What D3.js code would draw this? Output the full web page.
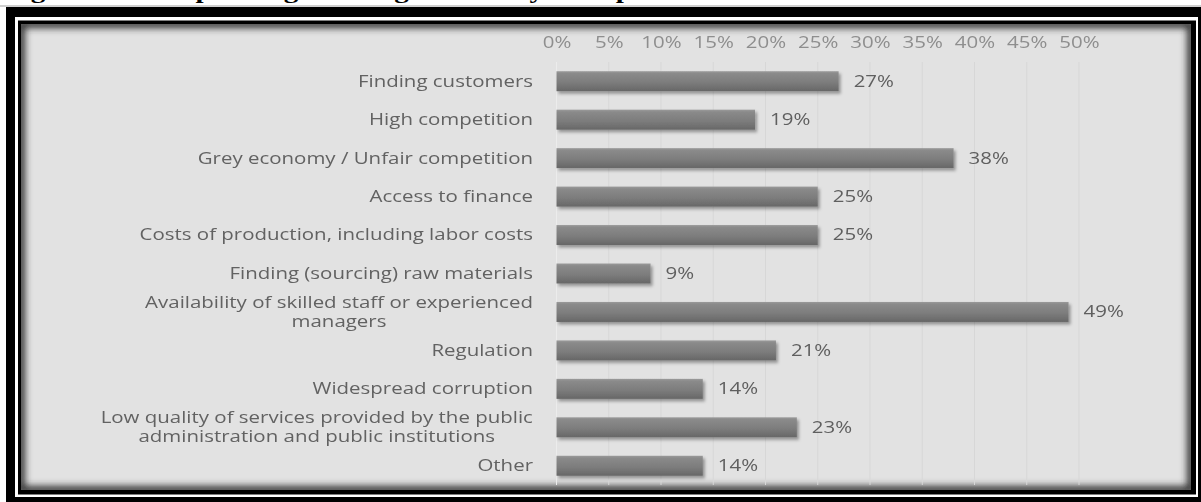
<!DOCTYPE html>
<html>
<head>
<meta charset="utf-8">
<script src="https://cdn.jsdelivr.net/npm/d3@7"></script>
<style>
  html, body { margin: 0; padding: 0; background: #ffffff; }
  svg { display: block; }
  text { font-family: "Open Sans", "Noto Sans", sans-serif; }
</style>
</head>
<body>
<div id="chart"></div>
<script>
// ---- data ----
const categories = [
  "Finding customers",
  "High competition",
  "Grey economy / Unfair competition",
  "Access to finance",
  "Costs of production, including labor costs",
  "Finding (sourcing) raw materials",
  "Availability of skilled staff or experienced managers",
  "Regulation",
  "Widespread corruption",
  "Low quality of services provided by the public administration and public institutions",
  "Other"
];
const values = [27, 19, 38, 25, 25, 9, 49, 21, 14, 23, 14];
const tickValues = [0, 5, 10, 15, 20, 25, 30, 35, 40, 45, 50];
const titleText = "Figure 4: Most pressing challenges faced by enterprises";

// ---- layout ----
const W = 1201, H = 502;
const fontSize = 15.5;
const stretch = 1.32;          // horizontal stretch of all text on the page
const labelRight = 533;        // right edge of category labels
const wrapWidth = 470;

const svg = d3.select("#chart").append("svg")
  .attr("width", W).attr("height", H);

const defs = svg.append("defs");

const barGrad = defs.append("linearGradient")
  .attr("id", "barGrad").attr("x1", 0).attr("y1", 0).attr("x2", 0).attr("y2", 1);
[["0%", "#9a9a9a"], ["12%", "#8a8a8a"], ["55%", "#7d7d7d"], ["100%", "#676767"]]
  .forEach(([o, c]) => barGrad.append("stop").attr("offset", o).attr("stop-color", c));

const shadow = defs.append("filter").attr("id", "barShadow")
  .attr("x", "-5%").attr("y", "-40%").attr("width", "115%").attr("height", "200%");
shadow.append("feDropShadow").attr("dx", 2).attr("dy", 2.5)
  .attr("stdDeviation", 1.6).attr("flood-color", "#000").attr("flood-opacity", 0.35);

const innerBlur = defs.append("filter").attr("id", "innerBlur")
  .attr("x", "-5%").attr("y", "-5%").attr("width", "110%").attr("height", "110%");
innerBlur.append("feGaussianBlur").attr("stdDeviation", 3.5);

const soft = defs.append("filter").attr("id", "soft");
soft.append("feGaussianBlur").attr("stdDeviation", 0.35);

// ---- page frame ----
const frame = { x0: 21, y0: 24, x1: 1191, y1: 490 };

// caption above the framed chart (only its descenders fall inside the page)
svg.append("text")
  .attr("transform", `translate(5,-1.6) scale(${stretch},1)`)
  .style("font-family", "'Liberation Serif', serif")
  .style("font-weight", "bold").style("font-size", "22px")
  .attr("fill", "#000")
  .text(titleText);

svg.append("rect").attr("x", 0).attr("y", 5.5).attr("width", W).attr("height", 1).attr("fill", "#a0a0a0");
svg.append("rect").attr("x", 6).attr("y", 7).attr("width", W - 6).attr("height", H - 7).attr("fill", "#000");
svg.append("rect").attr("x", 15).attr("y", 17).attr("width", 1198 - 15).attr("height", 497 - 17).attr("fill", "#fff");
svg.append("rect").attr("x", 18).attr("y", 20.5).attr("width", 1196 - 18).attr("height", 494.5 - 20.5).attr("fill", "#000");

defs.append("clipPath").attr("id", "frameClip")
  .append("rect").attr("x", frame.x0).attr("y", frame.y0)
  .attr("width", frame.x1 - frame.x0).attr("height", frame.y1 - frame.y0);

const plot = svg.append("g").attr("clip-path", "url(#frameClip)");
plot.append("rect").attr("x", frame.x0).attr("y", frame.y0)
  .attr("width", frame.x1 - frame.x0).attr("height", frame.y1 - frame.y0)
  .attr("fill", "#e2e2e2");
plot.append("rect").attr("x", frame.x0).attr("y", frame.y0)
  .attr("width", frame.x1 - frame.x0).attr("height", frame.y1 - frame.y0)
  .attr("fill", "none").attr("stroke", "#333").attr("stroke-width", 8)
  .attr("filter", "url(#innerBlur)");

// ---- scales ----
const x = d3.scaleLinear().domain([0, 50]).range([556.5, 1079]);
const y = d3.scaleBand().domain(categories).range([62, 485])
  .paddingInner(0.48).paddingOuter(0.24);

const chart = svg.append("g").attr("filter", "url(#soft)");

// gridlines
chart.append("g").selectAll("line").data(tickValues).join("line")
  .attr("x1", d => x(d)).attr("x2", d => x(d))
  .attr("y1", 62).attr("y2", 485)
  .attr("stroke", d => d === 0 ? "#ececec" : "#d7d7d7").attr("stroke-width", 1);

// top axis
const axis = chart.append("g").attr("transform", "translate(0,51)")
  .call(d3.axisTop(x).tickValues(tickValues).tickFormat(d => d + "%").tickSize(0).tickPadding(3));
axis.select(".domain").remove();
axis.selectAll("text")
  .attr("transform", `scale(${stretch},1)`)
  .style("font-size", fontSize + "px")
  .style("font-family", "'Open Sans', sans-serif")
  .attr("fill", "#8e8e8e");

// bars
chart.append("g").selectAll("rect").data(values).join("rect")
  .attr("x", x(0))
  .attr("y", (d, i) => y(categories[i]))
  .attr("width", d => x(d) - x(0))
  .attr("height", y.bandwidth())
  .attr("fill", "url(#barGrad)")
  .attr("filter", "url(#barShadow)");

// value labels
chart.append("g").selectAll("text").data(values).join("text")
  .attr("transform", (d, i) => `translate(${x(d) + 15},${y(categories[i]) + y.bandwidth() / 2}) scale(${stretch},1)`)
  .attr("dy", "0.35em")
  .style("font-size", fontSize + "px")
  .attr("fill", "#5f5f5f")
  .text(d => d + "%");

// category labels, wrapped and centred as a block against the axis
const measure = chart.append("text").style("font-size", fontSize + "px").attr("opacity", 0);
const textWidth = s => { measure.text(s); return measure.node().getComputedTextLength() * stretch; };

function wrap(label) {
  const words = label.split(" ");
  const lines = [];
  let cur = "";
  words.forEach(w => {
    const trial = cur ? cur + " " + w : w;
    if (cur && textWidth(trial) > wrapWidth) { lines.push(cur); cur = w; }
    else cur = trial;
  });
  if (cur) lines.push(cur);
  return lines;
}

const lineH = 19;
const labels = chart.append("g");
categories.forEach(cat => {
  const lines = wrap(cat);
  const cy = y(cat) + y.bandwidth() / 2;
  const maxW = d3.max(lines, textWidth);
  const cx = lines.length > 1 ? labelRight - maxW / 2 : labelRight;
  lines.forEach((ln, j) => {
    labels.append("text")
      .attr("transform", `translate(${cx},${cy + (j - (lines.length - 1) / 2) * lineH}) scale(${stretch},1)`)
      .attr("dy", "0.35em")
      .attr("text-anchor", lines.length > 1 ? "middle" : "end")
      .style("font-size", fontSize + "px")
      .attr("fill", "#626262")
      .text(ln);
  });
});
measure.remove();
</script>
</body>
</html>
